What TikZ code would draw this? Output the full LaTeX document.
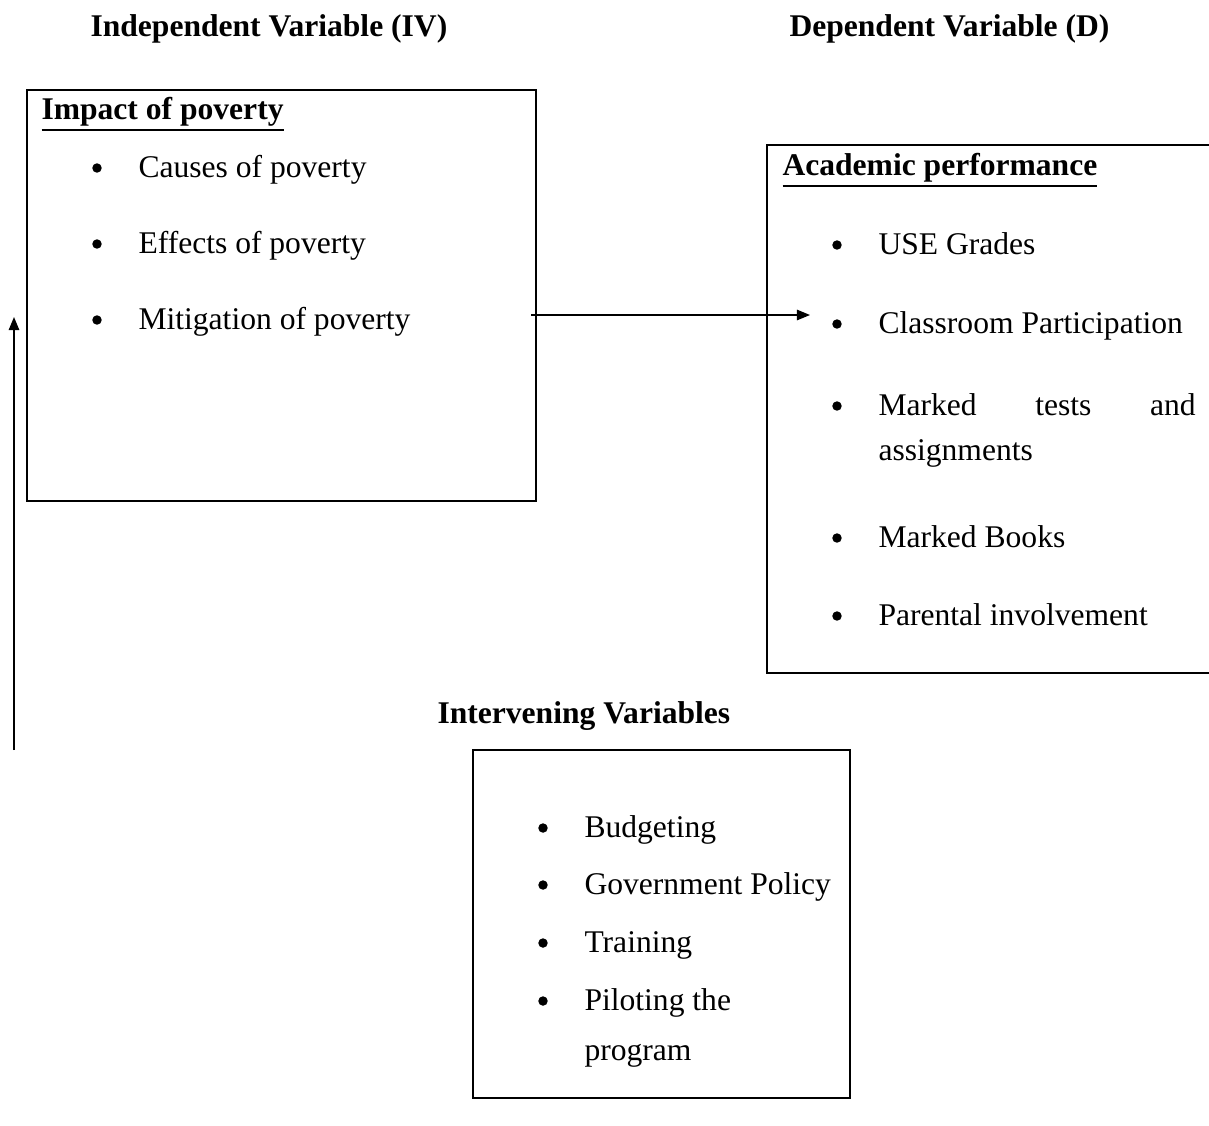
\documentclass[tikz,border=0pt]{standalone}
\usepackage{fontspec}
\setmainfont{Liberation Serif}
\usepackage{tikz}
\usetikzlibrary{arrows.meta,positioning}
\newcommand\thickul[1]{\vtop{\hbox{#1}\kern1.2pt\hrule height 0.8pt}}

\begin{document}
\begin{tikzpicture}[
  x=0.38pt, y=-0.38pt,
  varbox/.style={draw=black, line width=0.8pt, minimum width=#1, inner sep=0pt},
  heading/.style={anchor=base west, font=\fontsize{12}{14}\selectfont\bfseries, inner sep=0pt},
  bul/.style={circle, fill=black, inner sep=0pt, minimum size=3.6pt},
  itemtxt/.style={anchor=base west, font=\fontsize{12}{14}\selectfont, inner sep=0pt},
  arr/.style={-{Triangle[length=5pt,width=4pt]}, line width=0.5pt},
]
  \useasboundingbox (0,0) rectangle (1209,1125);

  % Titres des variables
  \node[heading] (ivtitle) at (90,36)  {Independent Variable (IV)};
  \node[heading] (dvtitle) at (789,36) {Dependent Variable (D)};
  \node[heading] (intitle) at (437,723) {Intervening Variables};

  % Cadres
  \node[varbox=193.42pt, minimum height=156.18pt] (impact)   at (281.5,295.5) {};
  \node[varbox=174.04pt, minimum height=200.64pt] (academic) at (996,409)    {};
  \node[varbox=143.26pt, minimum height=132.24pt] (interv)   at (661.5,924)  {};

  % Variable independante
  \node[heading] (impacthead) at (41,119) {\thickul{Impact of poverty}};
  \foreach \y/\txt in {177/Causes of poverty, 253/Effects of poverty, 329/Mitigation of poverty}{
    \node[bul] at (97,\y-9) {};
    \node[itemtxt] at (138,\y) {\txt};
  }

  % Variable dependante
  \node[heading] (acadhead) at (782,175) {\thickul{Academic performance}};
  \foreach \y/\txt in {254/USE Grades, 333/Classroom Participation, 547/Marked Books, 625/Parental involvement}{
    \node[bul] at (837,\y-9) {};
    \node[itemtxt] at (878,\y) {\txt};
  }
  \node[bul] at (837,406) {};
  \node[itemtxt] (marked) at (878,415) {\makebox[120.5pt][s]{Marked tests and}};
  \node[itemtxt] (assign) at (878,460) {assignments};

  % Variables intermediaires
  \foreach \y/\txt in {837/Budgeting, 894/Government Policy, 952/Training, 1010/Piloting the}{
    \node[bul] at (543,\y-9) {};
    \node[itemtxt] at (584,\y) {\txt};
  }
  \node[itemtxt] (program) at (584,1060) {program};

  % Fleches
  \coordinate (ivout)   at (531,315);
  \coordinate (dvin)    at (810,315);
  \coordinate (loopbot) at (14,750);
  \coordinate (looptop) at (14,317);
  \draw[arr] (ivout) -- (dvin);
  \draw[arr] (loopbot) -- (looptop);
\end{tikzpicture}
\end{document}
